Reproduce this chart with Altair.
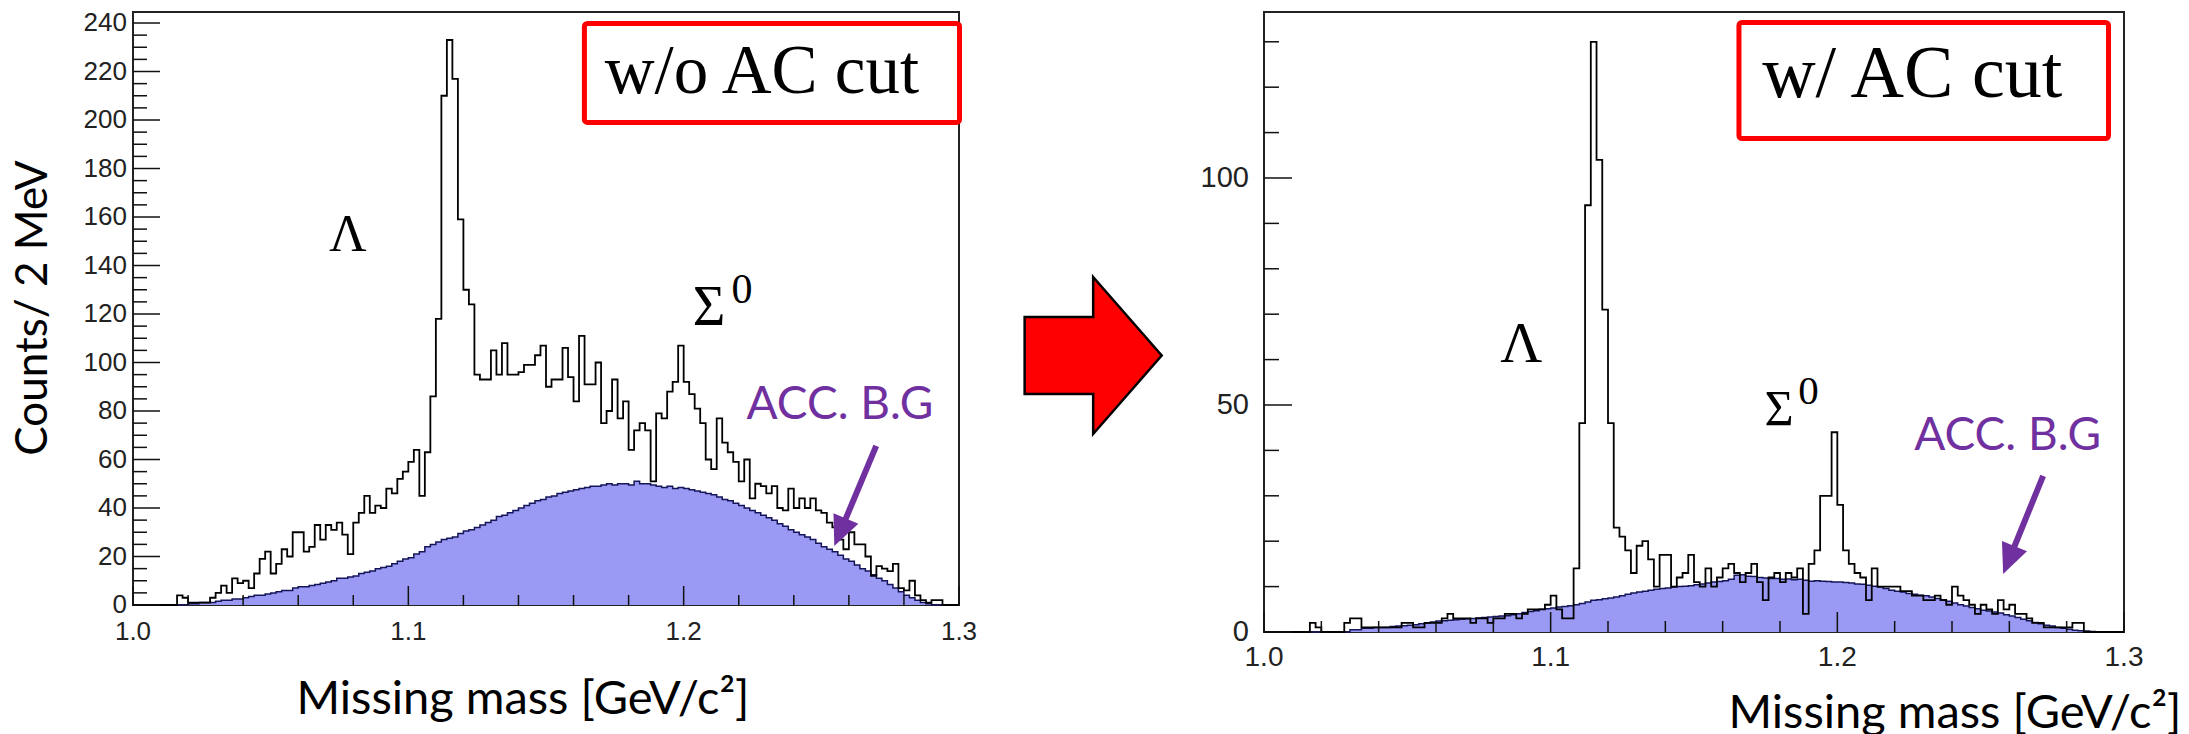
import altair as alt
import pandas as pd

X_MIN = 1.0
X_MAX = 1.3
BIN_W = 0.002

# ---- histogram contents (counts per 2 MeV bin, 150 bins from 1.0 to 1.3 GeV/c^2) ----
left_total = [
    0, 0, 0, 0, 0, 0, 0, 0,
    4, 3, 1, 1, 1, 1,
    3, 5, 8, 5, 11, 9, 10, 7,
    13, 19, 22, 13, 17, 23, 20, 30, 30, 22,
    24, 33, 27, 33, 31, 34, 29, 21, 34, 38,
    45, 38, 41, 40, 48, 46, 52, 55, 59, 64,
    45, 63, 86, 118, 210, 233, 217, 159, 130, 124,
    95, 93, 93, 105, 95, 108, 95, 95, 96, 99,
    99, 103, 107, 90, 93, 93,
    106, 94, 84, 111, 91, 91, 100, 75, 80, 93,
    77, 84, 64, 72, 75, 72, 51, 79, 77, 88,
    92, 107, 92, 87, 81, 75, 60, 56, 77, 67,
    63, 59, 51, 60, 44, 50, 49, 46, 49, 40,
    39, 48, 40, 44, 40, 44, 39, 38, 34, 32,
    27, 23, 30, 25, 25, 20, 12, 16, 15, 14,
    17, 7, 6, 10, 4, 2, 1, 2, 2, 0, 0, 0,
]
left_bg = [
    0, 0, 0, 0, 0, 0, 0, 0, 0, 0,
    0.5, 0.5, 1, 1, 1, 1.5, 2, 2, 2.5, 2.5,
    3, 3.5, 4, 4, 4.5, 5, 5.5, 6, 6, 7,
    7.5, 7.5, 8, 8.5, 9, 9.5, 10, 11, 11, 11.5,
    12, 13, 13.5, 14, 15, 15.5, 16, 17, 18, 19,
    19.5, 21, 22, 24, 25, 26, 27, 27.5, 28, 29.5,
    30.5, 31, 32, 33, 34, 35, 36.5, 37, 38, 39,
    40, 41, 42, 43, 43.5, 44.5, 45, 46, 46.5, 47,
    47.5, 48, 48.5, 49, 49, 49.5, 50, 49.5, 50, 50,
    49.5, 51, 50, 50, 49.5, 49, 48.5, 49, 48, 48.5,
    48, 47.5, 47, 46.5, 46, 45.5, 44.5, 43.5, 43, 42,
    41, 40, 39, 38, 37, 36, 35, 33.5, 32.5, 31,
    30, 29, 28, 27, 25.5, 24, 23, 22, 20.5, 19,
    18, 16.5, 15, 14, 12.5, 11, 10, 8.5, 7, 5.5,
    4, 3, 2, 1, 0.5, 0, 0, 0, 0, 0,
]
right_total = [
    0, 0, 0, 0, 0, 0, 0, 0, 2, 1,
    0, 0, 0, 0, 2, 3, 3, 1, 1, 1,
    1, 1, 1, 1, 2, 2, 1, 1, 2, 2,
    2, 3, 4, 3, 3, 3, 2, 3, 3, 2,
    3, 3, 4, 4, 3, 4, 5, 5, 5, 6,
    8, 5, 3, 3, 14, 46, 94, 130, 104, 71,
    46, 23, 21, 18, 13, 19, 20, 16, 10, 17,
    17, 10, 12, 13, 17, 11, 10, 14, 10, 12,
    14, 15, 13, 11, 13, 15, 11, 7, 12, 13,
    11, 13, 12, 14, 4, 15, 18, 30, 30, 44,
    28, 18, 15, 13, 12, 7, 14, 10, 10, 10,
    10, 9, 9, 8, 8, 7, 7, 8, 7, 6,
    10, 8, 7, 6, 4, 6, 5, 4, 7, 5,
    6, 4, 4, 3, 2, 2, 1, 1, 1, 1,
    1, 2, 2, 0, 0, 0, 0, 0, 0, 0,
]
right_bg = [
    0, 0, 0, 0, 0, 0, 0, 0, 0, 0,
    0, 0, 0, 0, 0, 0.5, 0.5, 0.8, 0.8, 1,
    1, 1, 1.2, 1.3, 1.4, 1.5, 1.6, 1.8, 2, 2.2,
    2.4, 2.5, 2.6, 2.7, 2.8, 2.9, 3, 3.1, 3.2, 3.3,
    3.4, 3.5, 3.6, 3.8, 4, 4.3, 4.5, 4.7, 5, 5.1,
    5.3, 5.5, 5.6, 5.8, 6, 6.3, 6.6, 7, 7.1, 7.3,
    7.5, 7.7, 8, 8.3, 8.6, 8.8, 9, 9.2, 9.4, 9.6,
    9.7, 9.9, 10, 10.1, 10.2, 10.4, 10.6, 10.8, 11, 11.1,
    11.3, 11.6, 12.5, 12.6, 12.3, 12.2, 12, 11.9, 11.8, 11.8,
    11.6, 11.7, 11.5, 11.6, 11.4, 11.2, 11.3, 11.2, 11.1, 11,
    11, 10.9, 10.8, 10.6, 10.5, 10.3, 10.1, 9.9, 9.6, 9.2,
    9, 8.8, 8.5, 8.3, 8.1, 8, 7.7, 7.4, 7.1, 6.8,
    6.4, 6, 5.7, 5.4, 5.1, 4.8, 4.6, 4.4, 4.2, 3.8,
    3.5, 3.2, 2.8, 2.5, 2.1, 1.8, 1.5, 1.3, 1, 0.8,
    0.6, 0.4, 0.3, 0.2, 0.1, 0, 0, 0, 0, 0,
]

# ---- axis tick values / labels ----
x_tick_labels = [1.0, 1.1, 1.2, 1.3]
x_minor_ticks = [round(1.0 + 0.02 * k, 2) for k in range(16) if k % 5 != 0]
left_y_labels = list(range(0, 241, 20))
left_y_minor = [v for v in range(5, 245, 5) if v % 20 != 0]
right_y_labels = [0, 50, 100]
right_y_minor = [v for v in range(10, 137, 10) if v % 50 != 0]

x_title = "Missing mass [GeV/c²]"
y_title = "Counts/ 2 MeV"

# ---- annotation texts ----
left_box_text = "w/o AC cut"
right_box_text = "w/ AC cut"
lambda_text = "Λ"
sigma_text = "Σ"
sigma_sup = "0"
bg_text = "ACC. B.G"

FILL_BLUE = "#9a9af4"
PURPLE = "#7030A0"
RED = "#FF0000"
LABEL_GREY = "#222222"
BIG_ARROW_PATH = "M -0.873 -0.49 L 0 -0.49 L 0 -1 L 0.873 0 L 0 1 L 0 0.49 L -0.873 0.49 Z"
HEAD_PATH = "M 0 0 L -0.45 -1 L 0.45 -1 Z"


def hist_frame(values):
    xs = [round(X_MIN + BIN_W * i, 4) for i in range(len(values))] + [X_MAX]
    ys = list(values) + [values[-1]]
    return pd.DataFrame({"x": xs, "y": ys})


def make_panel(total, bg, cfg, ann):
    W, H, ymax = cfg["W"], cfg["H"], cfg["ymax"]
    xsc = alt.Scale(domain=[X_MIN, X_MAX], nice=False, zero=False)
    ysc = alt.Scale(domain=[0, ymax], nice=False, zero=False)
    X = lambda f="x:Q": alt.X(f, scale=xsc, axis=None)
    Y = lambda f="y:Q": alt.Y(f, scale=ysc, axis=None)

    bg_df = hist_frame(bg)
    tot_df = hist_frame(total)

    area = alt.Chart(bg_df).mark_area(interpolate="step-after", color=FILL_BLUE, opacity=1).encode(x=X(), y=Y())
    bg_line = alt.Chart(bg_df).mark_line(interpolate="step-after", color="#15155a", strokeWidth=1.5).encode(x=X(), y=Y())
    tot_line = alt.Chart(tot_df).mark_line(interpolate="step-after", color="#000", strokeWidth=1.8).encode(x=X(), y=Y())

    def ytick(vals, length):
        return alt.Chart(pd.DataFrame({"v": vals})).mark_rule(color="#111", strokeWidth=1.5).encode(
            y=Y("v:Q"), x=alt.value(0), x2=alt.value(length)
        )

    def xtick(vals, length):
        return alt.Chart(pd.DataFrame({"v": vals})).mark_rule(color="#111", strokeWidth=1.5).encode(
            x=X("v:Q"), y=alt.value(H), y2=alt.value(H - length)
        )

    # tick labels placed through the scales
    ylab = alt.Chart(pd.DataFrame({"v": cfg["y_labels"]})).mark_text(
        font="Liberation Sans", fontSize=cfg["ylab_size"], color=LABEL_GREY, align="right", baseline="middle"
    ).encode(y=Y("v:Q"), x=alt.value(-cfg["ylab_pad"]), text=alt.Text("v:Q", format="d"))
    xlab = alt.Chart(pd.DataFrame({"v": x_tick_labels})).mark_text(
        font="Liberation Sans", fontSize=cfg["xlab_size"], color=LABEL_GREY, align="center", baseline="top"
    ).encode(x=X("v:Q"), y=alt.value(H + cfg["xlab_pad"]), text=alt.Text("v:Q", format=".1f"))

    xtitle = alt.Chart(pd.DataFrame({"t": [x_title]})).mark_text(
        font="Lato", fontSize=47, color="#000", align="center", baseline="alphabetic"
    ).encode(x=alt.value(cfg["xtitle_x"]), y=alt.value(H + cfg["xtitle_y"]), text="t:N")

    layers = [
        area, bg_line, tot_line,
        ytick(cfg["y_labels"], cfg["ymaj"]), ytick(cfg["y_minor"], cfg["ymin"]),
        xtick(x_tick_labels, cfg["xmaj"]), xtick(x_minor_ticks, cfg["xmin"]),
        ylab, xlab, xtitle,
    ]
    if cfg["ytitle"]:
        ytitle = alt.Chart(pd.DataFrame({"t": [y_title]})).mark_text(
            font="Lato", fontSize=44, color="#000", align="center", baseline="middle", angle=270
        ).encode(x=alt.value(cfg["ytitle_x"]), y=alt.value(cfg["ytitle_y"]), text="t:N")
        layers.append(ytitle)

    box = alt.Chart(pd.DataFrame([ann["box"]])).mark_rect(
        filled=False, stroke=RED, strokeWidth=5, cornerRadius=3
    ).encode(x=X(), x2="x2:Q", y=Y(), y2="y2:Q")
    serif_c = alt.Chart(pd.DataFrame(ann["serif_center"])).mark_text(
        font="Liberation Serif", align="center", baseline="alphabetic", color="#000"
    ).encode(x=X(), y=Y(), text="t:N", size=alt.Size("fs:Q", scale=None))
    serif_l = alt.Chart(pd.DataFrame(ann["serif_left"])).mark_text(
        font="Liberation Serif", align="left", baseline="alphabetic", color="#000"
    ).encode(x=X(), y=Y(), text="t:N", size=alt.Size("fs:Q", scale=None))
    sans_l = alt.Chart(pd.DataFrame(ann["sans_left"])).mark_text(
        font="Lato", align="left", baseline="alphabetic", color=PURPLE
    ).encode(x=X(), y=Y(), text="t:N", size=alt.Size("fs:Q", scale=None))
    shaft = alt.Chart(pd.DataFrame([ann["shaft"]])).mark_rule(color=PURPLE, strokeWidth=6).encode(
        x=X(), x2="x2:Q", y=Y(), y2="y2:Q"
    )
    head = alt.Chart(pd.DataFrame([ann["head"]])).mark_point(
        shape=HEAD_PATH, size=3600, filled=True, color=PURPLE, opacity=1, angle=ann["head_angle"]
    ).encode(x=X(), y=Y())
    layers += [box, serif_c, serif_l, sans_l, shaft, head]

    if "big_arrow" in ann:
        big = alt.Chart(pd.DataFrame([ann["big_arrow"]])).mark_point(
            shape=BIG_ARROW_PATH, size=24649, filled=True, fill=RED, stroke="#000",
            strokeWidth=2.5, opacity=1,
        ).encode(x=X(), y=Y())
        layers.append(big)
    if "anchor" in cfg:
        ax, ay = cfg["anchor"]
        anchor = alt.Chart(pd.DataFrame({"a": [0]})).mark_rect(opacity=0, color="white").encode(
            x=alt.value(ax), x2=alt.value(ax + 1), y=alt.value(ay), y2=alt.value(ay + 1)
        )
        layers.append(anchor)

    return alt.layer(*layers).properties(width=W, height=H)


left_cfg = dict(
    W=826, H=593, ymax=244.54, y_labels=left_y_labels, y_minor=left_y_minor,
    ymaj=27, ymin=14, xmaj=19, xmin=10, ylab_size=26, ylab_pad=6,
    xlab_size=26, xlab_pad=14, xtitle_x=390, xtitle_y=109,
    ytitle=True, ytitle_x=-99, ytitle_y=296, anchor=(-132, -11),
)
left_ann = dict(
    box={"x": 1.16395, "x2": 1.30018, "y": 199.0, "y2": 239.8},
    serif_center=[
        {"x": 1.22843, "y": 211.1, "t": left_box_text, "fs": 69},
        {"x": 1.07808, "y": 146.0, "t": lambda_text, "fs": 52},
    ],
    serif_left=[
        {"x": 1.20326, "y": 115.5, "t": sigma_text, "fs": 56},
        {"x": 1.21739, "y": 124.5, "t": sigma_sup, "fs": 42},
    ],
    sans_left=[{"x": 1.22283, "y": 76.7, "t": bg_text, "fs": 46}],
    shaft={"x": 1.26993, "y": 65.6, "x2": 1.25750, "y2": 31.9},
    head={"x": 1.25471, "y": 24.3},
    head_angle=22.8,
    big_arrow={"x": 1.34873, "y": 102.9},
)

right_cfg = dict(
    W=860, H=620, ymax=136.56, y_labels=right_y_labels, y_minor=right_y_minor,
    ymaj=28, ymin=15, xmaj=20, xmin=11, ylab_size=29, ylab_pad=15,
    xlab_size=28, xlab_pad=12, xtitle_x=691, xtitle_y=96, ytitle=False,
)
right_ann = dict(
    box={"x": 1.16568, "x2": 1.29460, "y": 108.70, "y2": 134.25},
    serif_center=[
        {"x": 1.22613, "y": 117.8, "t": right_box_text, "fs": 74},
        {"x": 1.08972, "y": 59.5, "t": lambda_text, "fs": 58},
    ],
    serif_left=[
        {"x": 1.17456, "y": 45.6, "t": sigma_text, "fs": 50},
        {"x": 1.18640, "y": 50.2, "t": sigma_sup, "fs": 41},
    ],
    sans_left=[{"x": 1.22683, "y": 40.1, "t": bg_text, "fs": 46}],
    shaft={"x": 1.27178, "y": 34.4, "x2": 1.26049, "y2": 16.85},
    head={"x": 1.25784, "y": 12.8},
    head_angle=22.2,
)

left = make_panel(left_total, left_bg, left_cfg, left_ann)
right = make_panel(right_total, right_bg, right_cfg, right_ann)

chart = alt.hconcat(
    left, right, spacing=305, bounds="flush", padding=0, background="white"
).configure_view(stroke="#222", strokeWidth=2)

chart.save("out.html", embed_options={"renderer": "svg", "actions": False})
